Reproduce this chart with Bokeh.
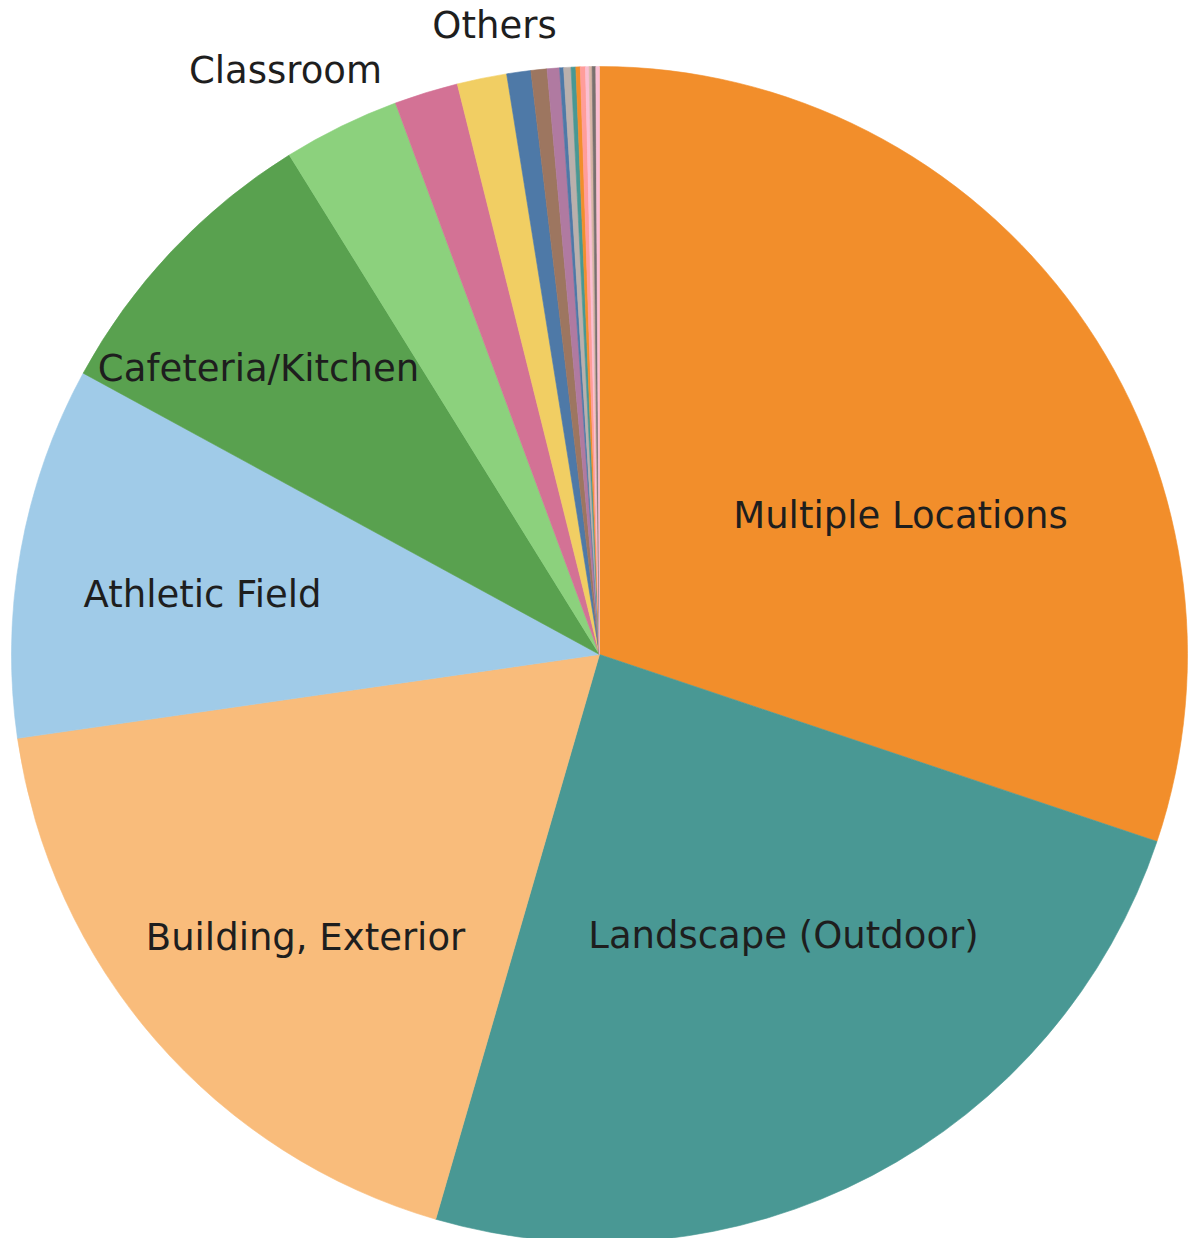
import numpy as np
from bokeh.plotting import figure
from bokeh.models import ColumnDataSource, Range1d
from bokeh.core.properties import value
from bokeh.embed import file_html
from bokeh.resources import INLINE

# ---- data (share of incidents, %), clockwise from 12 o'clock ----
categories = [
    "Multiple Locations", "Landscape (Outdoor)", "Building, Exterior",
    "Athletic Field", "Cafeteria/Kitchen", "Classroom",
    "Other A", "Other B", "Other C", "Other D", "Other E",
    "Other F", "Other G", "Other H", "Other I", "Other J",
    "Other K", "Other L", "Other M", "Other N",
]
shares = [
    30.1, 24.3, 18.2, 10.2, 8.2, 3.2,
    1.75, 1.36, 0.66, 0.44, 0.34,
    0.11, 0.2, 0.13, 0.12, 0.14, 0.1, 0.08, 0.1, 0.1,
]
colors = [
    "#F28E2B", "#499894", "#F9BC7B", "#A0CBE8", "#59A14F", "#8CD17D",
    "#D37295", "#F1CE63", "#4E79A7", "#9D7660", "#B07AA1",
    "#4E79A7", "#BAB0AC", "#499894", "#F28E2B", "#FF9D9A",
    "#FABFD2", "#D7B5A6", "#79706E", "#FABFD2",
]

# labels shown on the chart and their placement (pixel offsets from centre)
label_texts = ["Multiple Locations", "Landscape (Outdoor)", "Building, Exterior",
               "Athletic Field", "Cafeteria/Kitchen", "Classroom", "Others"]
label_dx = [301, 184, -294, -397, -341, -314, -105]
label_dy = [139, -281, -283, 60, 286, 584, 629]

# ---- layout ----
W, H = 1196, 1238
cx, cy, R = 599, H - 654, 588

vals = np.array(shares, dtype=float)
frac = vals / vals.sum()
cum = np.concatenate([[0.0], np.cumsum(frac)]) * 2 * np.pi  # clockwise from top
start = np.pi / 2 - cum[1:]
end = np.pi / 2 - cum[:-1]

src = ColumnDataSource(dict(
    x=[cx] * len(vals), y=[cy] * len(vals),
    start=start, end=end, color=colors, cat=categories,
))

p = figure(width=W, height=H, output_backend="svg", toolbar_location=None,
           x_range=Range1d(0, W), y_range=Range1d(0, H), min_border=0)
p.axis.visible = False
p.grid.visible = False
p.outline_line_color = None
p.background_fill_color = "white"
p.border_fill_color = "white"

p.wedge(x="x", y="y", radius=R, start_angle="start", end_angle="end",
        fill_color="color", line_color="color", line_width=0.6, source=src)

lsrc = ColumnDataSource(dict(
    x=[cx + d for d in label_dx], y=[cy + d for d in label_dy], t=label_texts,
))
p.text(x="x", y="y", text="t", source=lsrc, text_font=value("DejaVu Sans"),
       text_font_size="37px", text_color="#1e1e1e",
       text_align="center", text_baseline="middle")

open("out.html", "w").write(file_html(p, INLINE))
